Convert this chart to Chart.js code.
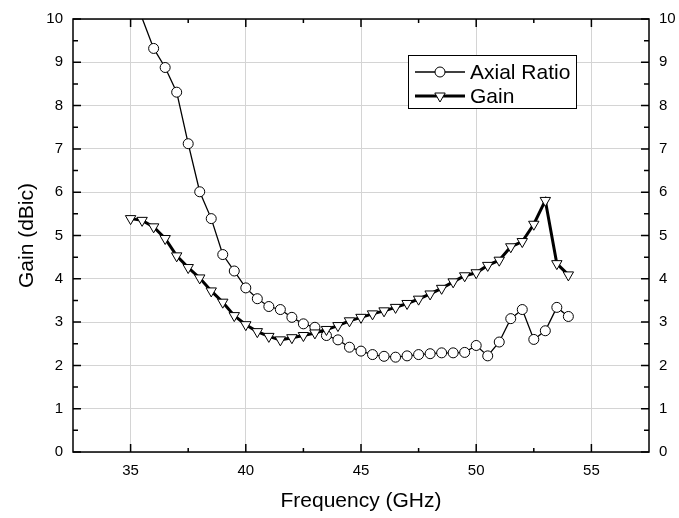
<!DOCTYPE html>
<html>
<head>
<meta charset="utf-8">
<script src="https://cdn.jsdelivr.net/npm/chart.js@4/dist/chart.umd.min.js"></script>
<style>
  html, body { margin: 0; padding: 0; background: #fff; }
  #wrap { width: 679px; height: 518px; }
</style>
</head>
<body>
<div id="wrap"><canvas id="c" width="679" height="518"></canvas></div>
<script>
// frequency points (GHz)
const freq = [35, 35.5, 36, 36.5, 37, 37.5, 38, 38.5, 39, 39.5, 40, 40.5, 41, 41.5, 42, 42.5, 43, 43.5,
  44, 44.5, 45, 45.5, 46, 46.5, 47, 47.5, 48, 48.5, 49, 49.5, 50, 50.5, 51, 51.5, 52, 52.5, 53, 53.5, 54];

const gain = [5.39, 5.35, 5.2, 4.93, 4.53, 4.26, 4.02, 3.72, 3.46, 3.15, 2.94, 2.78, 2.67, 2.59, 2.64, 2.69,
  2.75, 2.83, 2.92, 3.03, 3.11, 3.19, 3.26, 3.34, 3.43, 3.53, 3.65, 3.78, 3.93, 4.07, 4.14, 4.31, 4.43,
  4.74, 4.86, 5.26, 5.81, 4.35, 4.09];

// axial ratio starts at 35.5 GHz
const arFreq = freq.slice(1);
const axialRatio = [10.02, 9.32, 8.88, 8.31, 7.12, 6.01, 5.39, 4.56, 4.18, 3.79, 3.54, 3.36, 3.29, 3.11,
  2.96, 2.88, 2.69, 2.59, 2.42, 2.33, 2.25, 2.21, 2.19, 2.22, 2.25, 2.27, 2.29, 2.29, 2.3, 2.46, 2.22,
  2.54, 3.08, 3.29, 2.6, 2.8, 3.34, 3.13];

const xTicks = [35, 40, 45, 50, 55];
const yTicks = [0, 1, 2, 3, 4, 5, 6, 7, 8, 9, 10];

const FONT = "'Liberation Sans', Arial, sans-serif";
const X_MIN = 32.5, X_MAX = 57.5, Y_MIN = 0, Y_MAX = 10;

const pts = (xs, ys) => xs.map((x, i) => ({ x, y: ys[i] }));

// frame + inward tick marks (Origin style) + legend box
const framePlugin = {
  id: "frame",
  afterDraw(chart) {
    const { ctx, chartArea: a } = chart;
    const x = chart.scales.x, y = chart.scales.y;
    ctx.save();
    ctx.strokeStyle = "#000";
    ctx.lineWidth = 1.5;
    ctx.strokeRect(a.left, a.top, a.right - a.left, a.bottom - a.top);

    ctx.beginPath();
    const xMinor = xTicks.slice(0, -1).map((v, i) => (v + xTicks[i + 1]) / 2);
    xTicks.forEach((v) => {
      const px = x.getPixelForValue(v);
      ctx.moveTo(px, a.bottom); ctx.lineTo(px, a.bottom - 8);
      ctx.moveTo(px, a.top); ctx.lineTo(px, a.top + 8);
    });
    xMinor.forEach((v) => {
      const px = x.getPixelForValue(v);
      ctx.moveTo(px, a.bottom); ctx.lineTo(px, a.bottom - 4);
      ctx.moveTo(px, a.top); ctx.lineTo(px, a.top + 4);
    });
    yTicks.forEach((v, i) => {
      const py = y.getPixelForValue(v);
      ctx.moveTo(a.left, py); ctx.lineTo(a.left + 8, py);
      ctx.moveTo(a.right, py); ctx.lineTo(a.right - 8, py);
      if (i < yTicks.length - 1) {
        const pm = y.getPixelForValue(v + 0.5);
        ctx.moveTo(a.left, pm); ctx.lineTo(a.left + 5, pm);
        ctx.moveTo(a.right, pm); ctx.lineTo(a.right - 5, pm);
      }
    });
    ctx.stroke();

    // legend
    const lx = 408, ly = 55, lw = 168, lh = 53;
    ctx.fillStyle = "#fff";
    ctx.fillRect(lx, ly, lw, lh);
    ctx.lineWidth = 1;
    ctx.strokeRect(lx + 0.5, ly + 0.5, lw, lh);

    const rows = [
      { label: "Axial Ratio", y: 72, width: 1.3, style: "circle" },
      { label: "Gain", y: 96, width: 3, style: "triangle" },
    ];
    rows.forEach((r) => {
      ctx.strokeStyle = "#000";
      ctx.lineWidth = r.width;
      ctx.beginPath();
      ctx.moveTo(415, r.y); ctx.lineTo(465, r.y);
      ctx.stroke();
      ctx.lineWidth = 1;
      ctx.fillStyle = "#fff";
      ctx.beginPath();
      if (r.style === "circle") {
        ctx.arc(440, r.y, 5, 0, Math.PI * 2);
      } else {
        ctx.moveTo(440 - 5.2, r.y - 3);
        ctx.lineTo(440 + 5.2, r.y - 3);
        ctx.lineTo(440, r.y + 6);
        ctx.closePath();
      }
      ctx.fill();
      ctx.stroke();
      ctx.fillStyle = "#000";
      ctx.font = "21px " + FONT;
      ctx.textBaseline = "middle";
      ctx.textAlign = "left";
      ctx.fillText(r.label, 470, r.y + 1);
    });
    ctx.restore();
  },
};

new Chart(document.getElementById("c"), {
  type: "line",
  data: {
    datasets: [
      {
        label: "Gain",
        data: pts(freq, gain),
        borderColor: "#000",
        borderWidth: 3,
        pointStyle: "triangle",
        rotation: 180,
        pointRadius: 6,
        pointBorderWidth: 1,
        pointBackgroundColor: "#fff",
        pointBorderColor: "#000",
        tension: 0,
        xAxisID: "x",
        yAxisID: "y",
      },
      {
        label: "Axial Ratio",
        data: pts(arFreq, axialRatio),
        borderColor: "#000",
        borderWidth: 1.3,
        pointStyle: "circle",
        // symbols beyond the axis range are not drawn
        pointRadius: (c) => (c.raw && c.raw.y > Y_MAX ? 0 : 5),
        pointBorderWidth: 1,
        pointBackgroundColor: "#fff",
        pointBorderColor: "#000",
        tension: 0,
        xAxisID: "x",
        yAxisID: "y",
      },
    ],
  },
  options: {
    responsive: false,
    animation: false,
    layout: { padding: 0 },
    plugins: { legend: { display: false }, tooltip: { enabled: false } },
    scales: {
      x: {
        type: "linear",
        position: "bottom",
        min: X_MIN,
        max: X_MAX,
        afterBuildTicks: (s) => { s.ticks = xTicks.map((v) => ({ value: v })); },
        afterFit: (s) => { s.height = 66; },
        grid: { color: "#d4d4d4", lineWidth: 1, drawTicks: false },
        border: { display: false },
        ticks: { color: "#000", font: { family: FONT, size: 15 }, padding: 10, maxRotation: 0 },
        title: {
          display: true,
          text: "Frequency (GHz)",
          color: "#000",
          font: { family: FONT, size: 21 },
          padding: { top: 0, bottom: 4 },
        },
      },
      x2: {
        type: "linear",
        position: "top",
        min: X_MIN,
        max: X_MAX,
        afterFit: (s) => { s.height = 17; },
        grid: { display: false },
        border: { display: false },
        ticks: { display: false },
      },
      y: {
        type: "linear",
        position: "left",
        min: Y_MIN,
        max: Y_MAX,
        afterBuildTicks: (s) => { s.ticks = yTicks.map((v) => ({ value: v })); },
        afterFit: (s) => { s.width = 73; },
        grid: { color: "#d4d4d4", lineWidth: 1, drawTicks: false },
        border: { display: false },
        ticks: { color: "#000", font: { family: FONT, size: 15 }, padding: 10 },
        title: {
          display: true,
          text: "Gain (dBic)",
          color: "#000",
          font: { family: FONT, size: 21 },
          padding: { top: 15, bottom: 0 },
        },
      },
      y2: {
        type: "linear",
        position: "right",
        min: Y_MIN,
        max: Y_MAX,
        afterBuildTicks: (s) => { s.ticks = yTicks.map((v) => ({ value: v })); },
        afterFit: (s) => { s.width = 30; },
        grid: { display: false, drawTicks: false },
        border: { display: false },
        ticks: { color: "#000", font: { family: FONT, size: 15 }, padding: 10 },
      },
    },
  },
  plugins: [framePlugin],
});
</script>
</body>
</html>
